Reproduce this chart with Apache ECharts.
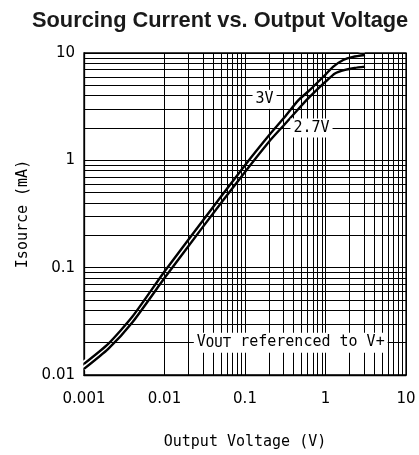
<!DOCTYPE html>
<html>
<head>
<meta charset="utf-8">
<script src="https://cdn.jsdelivr.net/npm/echarts@6/dist/echarts.min.js"></script>
<style>
html, body { margin: 0; padding: 0; background: #fff; }
#chart { width: 419px; height: 455px; }
</style>
</head>
<body>
<div id="chart"></div>
<script>
// curves: [output voltage (V), source current (mA)]
const curve3V = [
  [0.001, 0.0127], [0.002, 0.0195], [0.004, 0.035], [0.01, 0.092],
  [0.03, 0.275], [0.1, 0.9], [0.2, 1.72], [0.3, 2.45], [0.459, 3.62],
  [0.641, 4.53], [1.0, 6.3], [1.25, 7.46], [1.66, 8.61], [2.2, 9.2], [3.1, 9.58]
]
const curve27V = [
  [0.001, 0.0114], [0.002, 0.0175], [0.004, 0.031], [0.01, 0.08],
  [0.03, 0.24], [0.1, 0.78], [0.2, 1.5], [0.3, 2.1], [0.583, 3.66],
  [0.641, 3.93], [1.0, 5.4], [1.31, 6.45], [1.75, 6.95], [2.3, 7.25], [3.1, 7.46]
]

const xDecades = [0.001, 0.01, 0.1, 1]
const yDecades = [0.01, 0.1, 1]
const multiples = [1, 2, 3, 4, 5, 6, 7, 8, 9]

// annotation labels placed at data coordinates
const noteCoords = [[0.175, 3.7], [0.67, 2.0], [0.37, 0.02]]
const noteTexts = ['3V', '2.7V', '{v|V}{s|OUT}{v| referenced to V+}']

const labelFont = 'DejaVu Sans Mono'

// grid lines at every 1..9 of each decade
const xGrid = []
xDecades.forEach(d => multiples.forEach(m => xGrid.push(+(d * m).toPrecision(3))))
xGrid.push(10)
const yGrid = []
yDecades.forEach(d => multiples.forEach(m => yGrid.push(+(d * m).toPrecision(3))))
yGrid.push(10)

const chart = echarts.init(document.getElementById('chart'), null, { renderer: 'canvas' })

const fmt = v => String(+Number(v).toPrecision(3))

chart.setOption({
  animation: false,
  backgroundColor: '#fff',
  title: {
    text: 'Sourcing Current vs. Output Voltage',
    left: 32,
    top: 10,
    padding: 0,
    textStyle: {
      fontFamily: 'Liberation Sans',
      fontWeight: 'bold',
      fontSize: 21.8,
      lineHeight: 22,
      color: '#1a1a1a'
    }
  },
  grid: {
    left: 84, right: 13, top: 53, bottom: 79,
    show: true, borderColor: '#000', borderWidth: 1.3
  },
  xAxis: {
    type: 'log',
    logBase: 10,
    min: 0.001,
    max: 10,
    name: 'Output Voltage (V)',
    nameLocation: 'middle',
    nameGap: 60,
    nameTextStyle: { fontFamily: labelFont, fontSize: 15, color: '#000' },
    axisLine: { show: true, lineStyle: { color: '#000', width: 1.3 } },
    axisTick: { show: false },
    splitLine: { show: false },
    axisLabel: {
      margin: 17,
      fontFamily: 'DejaVu Sans',
      fontSize: 15,
      color: '#000',
      formatter: fmt
    }
  },
  yAxis: {
    type: 'log',
    logBase: 10,
    min: 0.01,
    max: 10,
    name: 'Isource (mA)',
    nameLocation: 'middle',
    nameGap: 52,
    nameTextStyle: { fontFamily: labelFont, fontSize: 15, color: '#000' },
    axisLine: { show: true, lineStyle: { color: '#000', width: 1.3 } },
    axisTick: { show: false },
    splitLine: { show: false },
    axisLabel: {
      margin: 9,
      fontFamily: 'DejaVu Sans',
      fontSize: 15,
      color: '#000',
      formatter: fmt
    }
  },
  series: [
    {
      // grid lines
      type: 'line',
      data: [],
      silent: true,
      z: 1,
      markLine: {
        silent: true,
        symbol: 'none',
        animation: false,
        label: { show: false },
        lineStyle: { color: '#000', width: 1, type: 'solid' },
        emphasis: { disabled: true },
        data: xGrid.map(v => ({ xAxis: v })).concat(yGrid.map(v => ({ yAxis: v })))
      }
    },
    {
      type: 'line', data: curve3V, showSymbol: false, silent: true, z: 3,
      smooth: 0.2,
      lineStyle: { color: '#fff', width: 6 }
    },
    {
      type: 'line', data: curve27V, showSymbol: false, silent: true, z: 3,
      smooth: 0.2,
      lineStyle: { color: '#fff', width: 6 }
    },
    {
      name: '3V', type: 'line', data: curve3V, showSymbol: false, silent: true, z: 4,
      smooth: 0.2,
      lineStyle: { color: '#000', width: 2.4 }
    },
    {
      name: '2.7V', type: 'line', data: curve27V, showSymbol: false, silent: true, z: 4,
      smooth: 0.2,
      lineStyle: { color: '#000', width: 2.4 }
    },
    {
      // annotations
      type: 'line',
      data: [],
      z: 10,
      markPoint: {
        silent: true,
        symbol: 'rect',
        symbolSize: 0,
        animation: false,
        data: noteCoords.map((c, i) => ({
          coord: c,
          label: {
            show: true,
            position: 'inside',
            formatter: noteTexts[i],
            fontFamily: labelFont,
            fontSize: 15,
            color: '#000',
            backgroundColor: '#fff',
            padding: [2, 3],
            rich: {
              v: { fontFamily: labelFont, fontSize: 15, lineHeight: 16, verticalAlign: 'top', color: '#000' },
              s: { fontFamily: labelFont, fontSize: 14, lineHeight: 16, padding: [6, 0, 0, 0], verticalAlign: 'bottom', color: '#000' }
            }
          }
        }))
      }
    }
  ]
})
</script>
</body>
</html>
